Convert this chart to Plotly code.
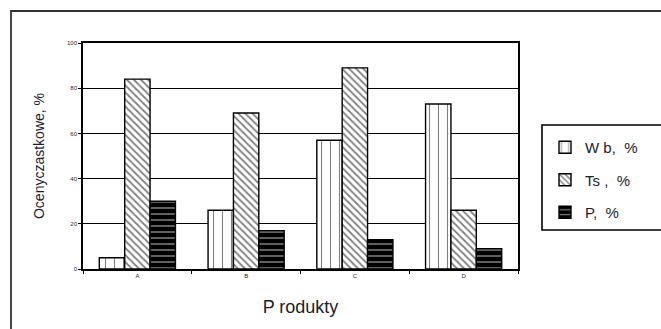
import plotly.graph_objects as go

# Product categories and the three partial scores (%)
products = ["A", "B", "C", "D"]
wb_values = [5, 26, 57, 73]
ts_values = [84, 69, 89, 26]
p_values = [30, 17, 13, 9]

series_names = ["W b,  %", "Ts ,  %", "P,  %"]
y_ticks = [0, 20, 40, 60, 80, 100]

FONT = "Liberation Sans, Arial, sans-serif"
INK = "#1c1c30"

W, H = 661, 329
L, R, T, B = 83, 143, 43, 60


def px_x(px):
    return (px - L) / (W - L - R)


def px_y(py):
    return (H - B - py) / (H - T - B)


fig = go.Figure()

fig.add_trace(go.Bar(
    x=products, y=wb_values, name=series_names[0], legendgroup="wb",
    marker=dict(color="white", line=dict(color="black", width=1.4),
                pattern=dict(shape="|", fgcolor="black", bgcolor="white",
                             size=9, solidity=0.12)),
))
fig.add_trace(go.Bar(
    x=products, y=ts_values, name=series_names[1], legendgroup="ts",
    marker=dict(color="white", line=dict(color="black", width=1.4),
                pattern=dict(shape="\\", fgcolor="black", bgcolor="white",
                             size=5, solidity=0.35)),
))
fig.add_trace(go.Bar(
    x=products, y=p_values, name=series_names[2], legendgroup="p",
    marker=dict(color="black", line=dict(color="black", width=1.4),
                pattern=dict(shape="-", fgcolor="white", bgcolor="black",
                             size=6, solidity=0.25)),
))

shapes = [
    # outer frame of the chart
    dict(type="rect", xref="paper", yref="paper",
         x0=px_x(11), x1=px_x(700), y0=px_y(400), y1=px_y(11),
         line=dict(color="#333333", width=1.8), fillcolor="rgba(0,0,0,0)",
         layer="below"),
    # legend box
    dict(type="rect", xref="paper", yref="paper",
         x0=px_x(542), x1=px_x(700), y0=px_y(230), y1=px_y(125),
         line=dict(color="black", width=1.6), fillcolor="rgba(0,0,0,0)"),
]

fig.update_layout(
    width=W, height=H,
    margin=dict(l=L, r=R, t=T, b=B),
    paper_bgcolor="white", plot_bgcolor="white",
    font=dict(family=FONT, color=INK),
    barmode="group", bargap=0.30, bargroupgap=0,
    showlegend=True,
    legend=dict(x=px_x(545), y=px_y(131), xanchor="left", yanchor="top",
                font=dict(size=15, family=FONT, color=INK),
                traceorder="grouped", tracegroupgap=10,
                bgcolor="rgba(0,0,0,0)", borderwidth=0,
                itemwidth=30),
    shapes=shapes,
    xaxis=dict(
        title=dict(text="P rodukty", font=dict(size=18, family=FONT, color=INK),
                   standoff=22),
        showline=True, linecolor="black", linewidth=1.6, mirror=True,
        ticks="outside", ticklen=3, tickwidth=1.4, tickcolor="black",
        tickson="boundaries",
        tickfont=dict(size=6, family=FONT, color=INK),
        showgrid=False,
    ),
    yaxis=dict(
        title=dict(text="Ocenyczastkowe, %", font=dict(size=14, family=FONT, color=INK),
                   standoff=19),
        range=[0, 100], tickvals=y_ticks,
        showline=True, linecolor="black", linewidth=1.6, mirror=True,
        ticks="outside", ticklen=3, tickwidth=1.4, tickcolor="black",
        tickfont=dict(size=6, family=FONT, color=INK),
        showgrid=True, gridcolor="black", gridwidth=1.4,
        zeroline=False,
    ),
)

fig.write_html("out.html")
